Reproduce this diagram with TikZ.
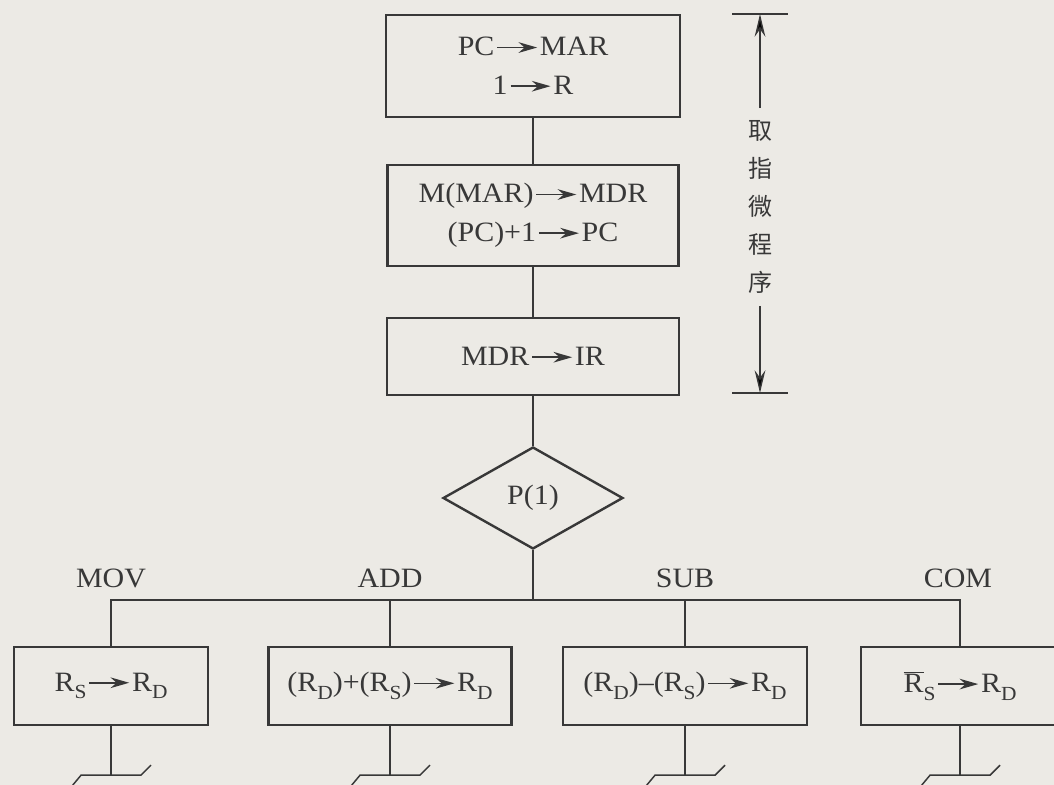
\documentclass[tikz,border=0pt]{standalone}
\usepackage{fontspec}
\setmainfont{Liberation Serif}[FakeStretch=1.07]
\newfontfamily\cjk{Noto Sans CJK SC}
\usetikzlibrary{arrows.meta,shapes.geometric,calc}
\definecolor{ink}{HTML}{383838}
\definecolor{paper}{HTML}{ECEAE5}
\newcommand{\tto}{\kern1.5pt\tikz[x=1cm,y=1cm,baseline={(0,-0.3em)}]\draw[ink,line width=1.2pt,-{Stealth[length=14pt,width=8pt]}] (0,0)--(30pt,0);\kern1.5pt}
\newcommand{\sbs}[1]{\raisebox{-0.28em}{\fontsize{15pt}{15pt}\selectfont #1}}
\begin{document}
\begin{tikzpicture}[x=0.75pt,y=-0.75pt,
  font=\fontsize{21pt}{29pt}\selectfont, text=ink,
  box/.style={draw=ink,line width=1.8pt,rectangle,inner sep=0pt,align=center},
  conn/.style={draw=ink,line width=1.1pt},
  lab/.style={inner sep=0pt},
  dimarrow/.style={conn,-{Stealth[length=17pt,width=8pt]}}]
\fill[paper] (0,0) rectangle (1054,785);
\useasboundingbox (0,0) rectangle (1054,785);

% top column
\node[box,minimum width={294*0.75pt},minimum height={102*0.75pt}] (b1) at (533,66) {PC\tto MAR\\1\tto R};
\node[box,minimum width={291*0.75pt},minimum height={101*0.75pt}] (b2) at (533,215.5) {M(MAR)\tto MDR\\(PC)+1\tto PC};
\node[box,minimum width={292*0.75pt},minimum height={77*0.75pt}] (b3) at (533,356.5) {MDR\tto IR};
\node[diamond,draw=ink,line width=1.8pt,inner sep=0pt,minimum width={180*0.75pt},minimum height={102*0.75pt}] (d) at (533,498) {P(1)};

\draw[conn] (b1.south) -- (b2.north);
\draw[conn] (b2.south) -- (b3.north);
\draw[conn] (b3.south) -- (d.north);

% bottom row
\node[box,minimum width={194*0.75pt},minimum height={78*0.75pt}] (bA) at (111,686) {R\sbs{S}\tto R\sbs{D}};
\node[box,minimum width={243*0.75pt},minimum height={78*0.75pt}] (bB) at (390,686) {(R\sbs{D})+(R\sbs{S})\tto R\sbs{D}};
\node[box,minimum width={244*0.75pt},minimum height={78*0.75pt}] (bC) at (685,686) {(R\sbs{D})–(R\sbs{S})\tto R\sbs{D}};
\node[box,minimum width={198*0.75pt},minimum height={78*0.75pt}] (bD) at (960,686) {$\overline{\mbox{R}}$\sbs{S}\tto R\sbs{D}};

\coordinate (bus) at (533,600);
\draw[conn] (d.south) -- (bus);
\foreach \n in {bA,bB,bC,bD}{
  \draw[conn] (\n.north) |- (bus);
  \draw[conn] (\n.south) -- ++(0,49) coordinate (z\n);
  \draw[conn] (z\n) ++(-40,12) -- ++(10,-12) -- ++(60,0) -- ++(10,-10);
}

\node[lab] (lA) at (111,578) {MOV};
\node[lab] (lB) at (390,578) {ADD};
\node[lab] (lC) at (685,578) {SUB};
\node[lab] (lD) at (958,578) {COM};

% dimension annotation
\node[font=\cjk\fontsize{18pt}{28.5pt}\selectfont,align=center,inner sep=0pt] (lbl) at (760,207) {取\\指\\微\\程\\序};
\coordinate (dt) at (760,14);
\coordinate (db) at (760,393);
\draw[conn] ($(dt)+(-28,0)$) -- ($(dt)+(28,0)$);
\draw[conn] ($(db)+(-28,0)$) -- ($(db)+(28,0)$);
\draw[dimarrow] ($(lbl.north)+(0,-12)$) -- (dt);
\draw[dimarrow] ($(lbl.south)+(0,12)$) -- (db);
\end{tikzpicture}
\end{document}
